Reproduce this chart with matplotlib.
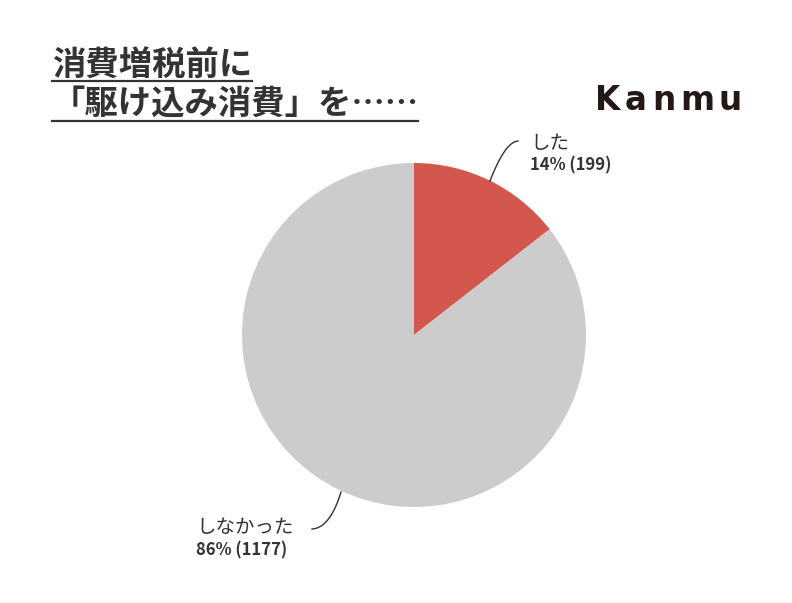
import matplotlib
matplotlib.use("Agg")
import matplotlib.pyplot as plt
from matplotlib.lines import Line2D
import numpy as np

labels = ["した", "しなかった"]
percents = [14, 86]
counts = [199, 1177]
colors = ["#D4574E", "#CCCCCC"]
title_lines = ["消費増税前に", "「駆け込み消費」を……"]
brand = "Kanmu"

W, H = 792, 603
fig = plt.figure(figsize=(W / 100, H / 100), dpi=100)
fig.patch.set_facecolor("white")

def fx(x):
    return x / W

def fy(y):
    return 1 - y / H

cx, cy, r = 414, 335, 172
ax = fig.add_axes([fx(cx - r), fy(cy + r), 2 * r / W, 2 * r / H])
wedges, _ = ax.pie(counts, colors=colors, startangle=90, counterclock=False,
                   radius=1, wedgeprops=dict(linewidth=0))
ax.set_xlim(-1, 1)
ax.set_ylim(-1, 1)
ax.set_aspect("auto")
ax.axis("off")

jp = ["Noto Sans CJK JP", "DejaVu Sans"]

# Title
fig.text(fx(52), fy(66), title_lines[0], fontsize=24, fontweight="bold",
         family=jp, color="#333333", va="center", ha="left")
fig.text(fx(52), fy(104), title_lines[1], fontsize=24, fontweight="bold",
         family=jp, color="#333333", va="center", ha="left")
fig.add_artist(Line2D([fx(52), fx(252)], [fy(81), fy(81)], color="#333333", lw=1.6,
                      transform=fig.transFigure))
fig.add_artist(Line2D([fx(52), fx(418)], [fy(121), fy(121)], color="#333333", lw=1.6,
                      transform=fig.transFigure))

# Brand with slight tracking
fig.canvas.draw()
renderer = fig.canvas.get_renderer()
x = 595
tracking = 4.8
for ch in brand:
    t = fig.text(fx(x), fy(110), ch, fontsize=23.5, fontweight="bold",
                 family="DejaVu Sans", color="#231815", va="baseline", ha="left")
    bb = t.get_window_extent(renderer=renderer)
    x += bb.width + tracking

# Leader lines
def curve(p0, p1, ctrl):
    t = np.linspace(0, 1, 40)
    xs = (1 - t) ** 2 * p0[0] + 2 * (1 - t) * t * ctrl[0] + t ** 2 * p1[0]
    ys = (1 - t) ** 2 * p0[1] + 2 * (1 - t) * t * ctrl[1] + t ** 2 * p1[1]
    fig.add_artist(Line2D([fx(v) for v in xs], [fy(v) for v in ys],
                          color="#333333", lw=1.0, transform=fig.transFigure))

curve((490, 181), (518, 141), (505, 142))
curve((341, 492), (312, 529), (330, 528))

fig.text(fx(530), fy(143), labels[0], fontsize=14, family=jp, color="#333333",
         va="center", ha="left")
fig.text(fx(530), fy(165), f"{percents[0]}% ({counts[0]})", fontsize=12,
         fontweight="bold", family=jp, color="#333333", va="center", ha="left")
fig.text(fx(196), fy(527), labels[1], fontsize=14, family=jp, color="#333333",
         va="center", ha="left")
fig.text(fx(196), fy(550), f"{percents[1]}% ({counts[1]})", fontsize=12,
         fontweight="bold", family=jp, color="#333333", va="center", ha="left")

fig.savefig("out.png", dpi=100, facecolor="white")
